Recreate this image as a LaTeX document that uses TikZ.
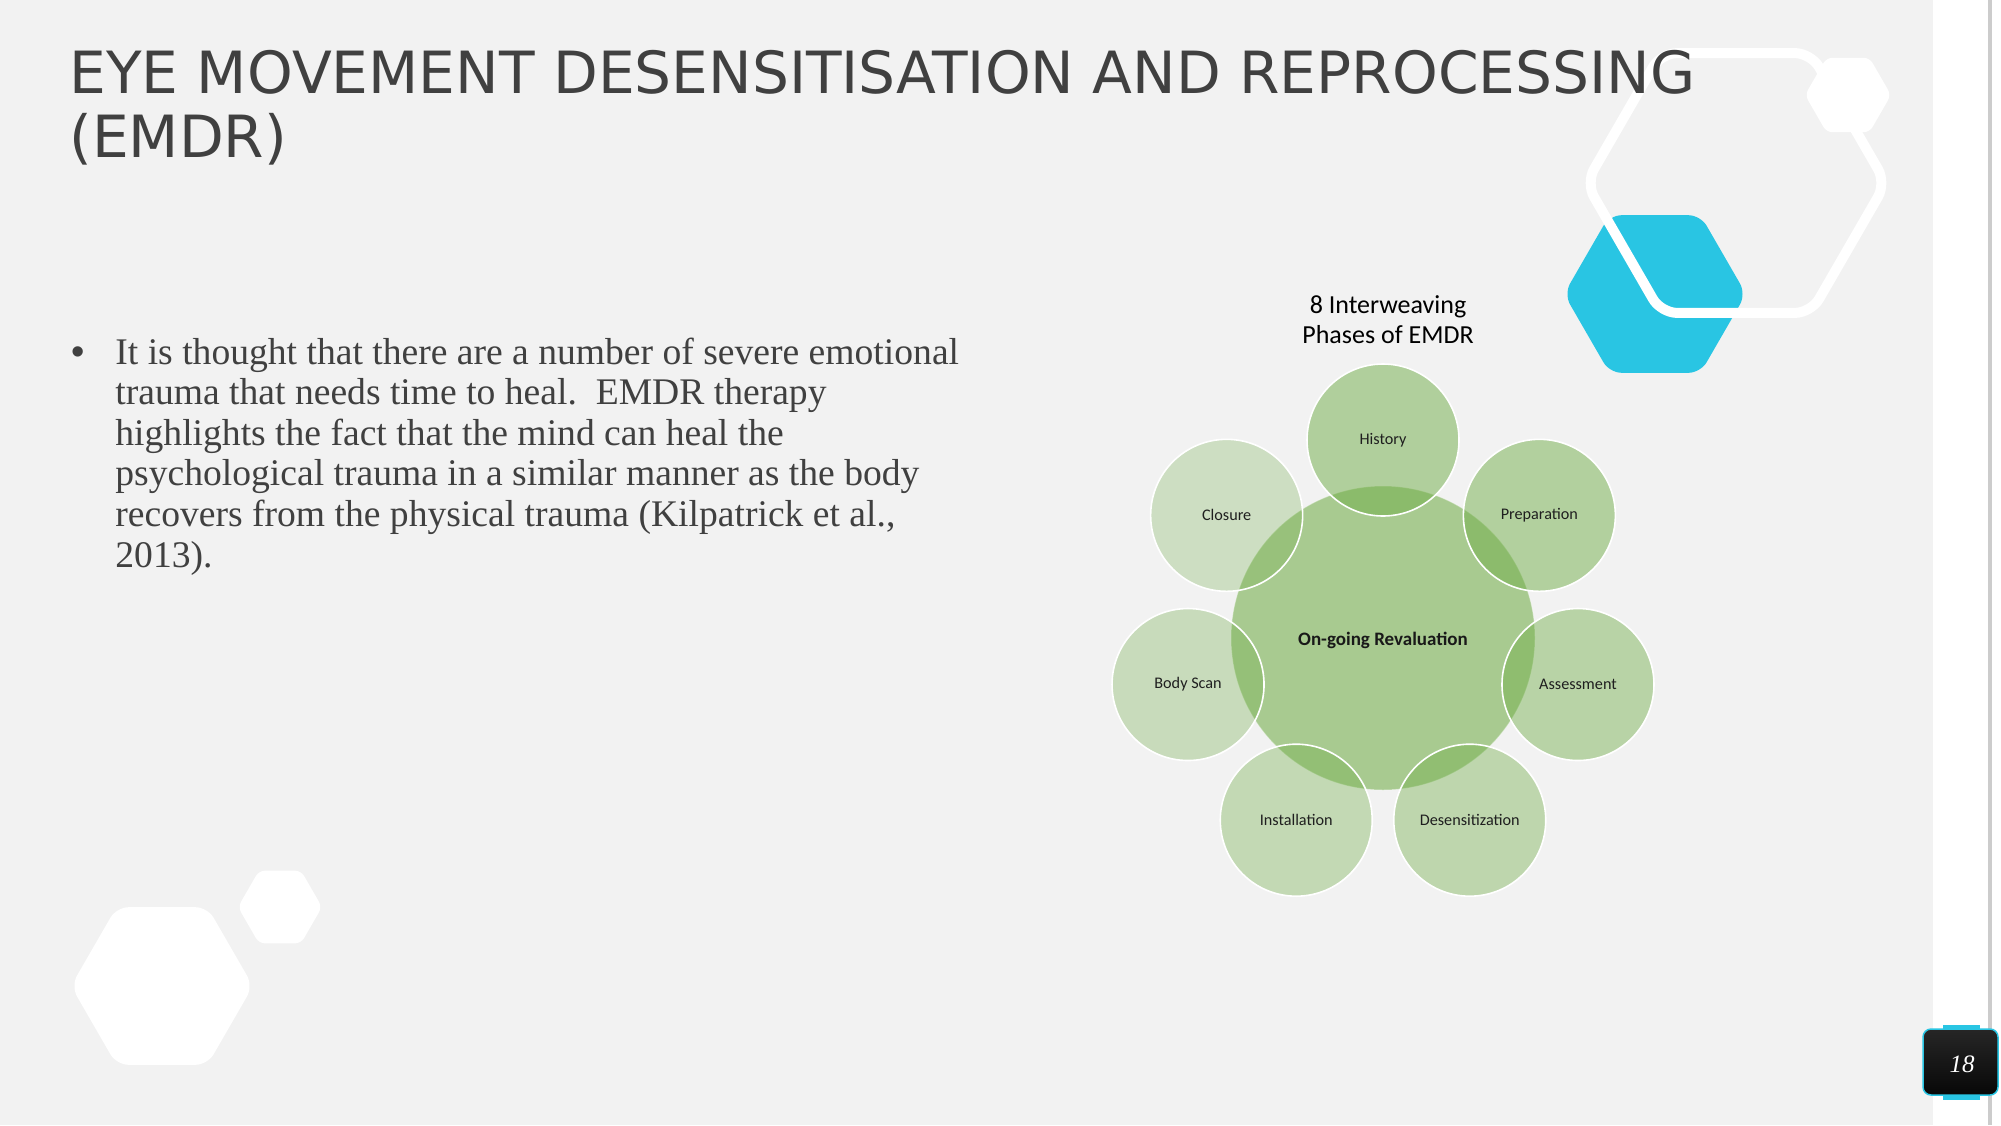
\documentclass[tikz,border=0pt]{standalone}
\usepackage{fontspec}
\setmainfont{Liberation Serif}
\newfontfamily\titlefont{DejaVu Sans}
\newfontfamily\calfont{Carlito}
\newfontfamily\arialfont{Liberation Sans}
\usetikzlibrary{calc}
\definecolor{bg}{HTML}{F2F2F2}
\definecolor{txt}{HTML}{404040}
\definecolor{cyanhex}{HTML}{29C5E3}
\definecolor{emgreen}{HTML}{70AD47}
\newcommand{\myhexagon}[4]{\path[#1] ({#2+#4},{#3}) -- ({#2+#4/2},{#3-0.866*#4}) -- ({#2-#4/2},{#3-0.866*#4}) -- ({#2-#4},{#3}) -- ({#2-#4/2},{#3+0.866*#4}) -- ({#2+#4/2},{#3+0.866*#4}) -- cycle;}
\begin{document}
\begin{tikzpicture}[x=0.5pt,y=-0.5pt,
  titletext/.style={anchor=base west, inner sep=0pt, font=\titlefont\fontsize{29.1}{32}\selectfont, text=txt},
  bodytext/.style={anchor=base west, inner sep=0pt, font=\fontsize{18.8}{20.3}\selectfont, text=txt},
  phase/.style={circle, inner sep=0pt, minimum size=76pt, fill=emgreen, draw=white, line width=0.8pt, text opacity=1, font=\calfont\fontsize{8.1}{9.7}\selectfont, text=black!88},
  diagtitle/.style={anchor=base, inner sep=0pt, font=\calfont\fontsize{13}{15}\selectfont, text=black}
]
% background
\fill[bg] (0,0) rectangle (2001,1125);
\useasboundingbox (0,0) rectangle (2001,1125);
% right strip
\fill[white] (1933,0) rectangle (2001,1125);
\fill[black!20] (1988,0) rectangle (1992,1125);
% decorative hexagons top right
\myhexagon{fill=cyanhex, rounded corners=6pt}{1655}{294}{91}
\myhexagon{draw=white, line width=5pt, rounded corners=8pt}{1736}{183}{150}
\myhexagon{fill=white, rounded corners=3pt}{1848}{95}{43}
% decorative hexagons bottom left
\myhexagon{fill=white, rounded corners=6pt}{162}{986}{91}
\myhexagon{fill=white, rounded corners=3pt}{280}{907}{42}
% title
\node[titletext] (t1) at (69,93) {EYE MOVEMENT DESENSITISATION AND REPROCESSING};
\node[titletext] (t2) at (69,157) {(EMDR)};
% bullet text
\node[inner sep=0pt, font=\arialfont\fontsize{19}{20}\selectfont, text=txt] (bul) at (78,356) {•};
\node[bodytext] (l1) at (115,364) {It is thought that there are a number of severe emotional};
\node[bodytext] (l2) at (115,404.6) {trauma that needs time to heal.\ \ EMDR therapy};
\node[bodytext] (l3) at (115,445.2) {highlights the fact that the mind can heal the};
\node[bodytext] (l4) at (115,485.8) {psychological trauma in a similar manner as the body};
\node[bodytext] (l5) at (115,526.4) {recovers from the physical trauma (Kilpatrick et al.,};
\node[bodytext] (l6) at (115,567) {2013).};
% diagram title
\node[diagtitle] (d1) at (1388,313) {8 Interweaving};
\node[diagtitle] (d2) at (1388,343) {Phases of EMDR};
% centre circle
\coordinate (ctr) at (1383,638);
\node[circle, inner sep=0pt, minimum size=152pt, fill=emgreen, fill opacity=0.57, draw=white, draw opacity=0.35, line width=0.5pt, text opacity=1, font=\calfont\bfseries\fontsize{9.5}{11}\selectfont, text=black!90] (core) at (ctr) {};
\node[inner sep=0pt, font=\calfont\bfseries\fontsize{9.5}{11}\selectfont, text=black!90] (corelabel) at ($(ctr)+(0,2)$) {On-going Revaluation};
% phases
\begin{scope}[every node/.append style={yshift=-1pt}]
\node[phase, fill opacity=0.50] (history) at ($(ctr)+(-90:200)$) {History};
\node[phase, fill opacity=0.49] (prep) at ($(ctr)+(-38.57:200)$) {Preparation};
\node[phase, fill opacity=0.44] (assess) at ($(ctr)+(12.86:200)$) {Assessment};
\node[phase, fill opacity=0.40] (desens) at ($(ctr)+(64.29:200)$) {Desensitization};
\node[phase, fill opacity=0.36] (install) at ($(ctr)+(115.71:200)$) {Installation};
\node[phase, fill opacity=0.32] (body) at ($(ctr)+(167.14:200)$) {Body Scan};
\node[phase, fill opacity=0.28] (closure) at ($(ctr)+(-141.43:200)$) {Closure};
\end{scope}
% page number
\fill[cyanhex] (1943,1025) rectangle (1980,1100);
\draw[cyanhex, line width=0.75pt, top color=black!85, bottom color=black!97, rounded corners=4pt] (1923,1029) rectangle (1998,1095);
\node[inner sep=0pt, font=\itshape\fontsize{12.5}{14}\selectfont, text=white] (pg) at (1962,1064) {18};
\end{tikzpicture}
\end{document}
